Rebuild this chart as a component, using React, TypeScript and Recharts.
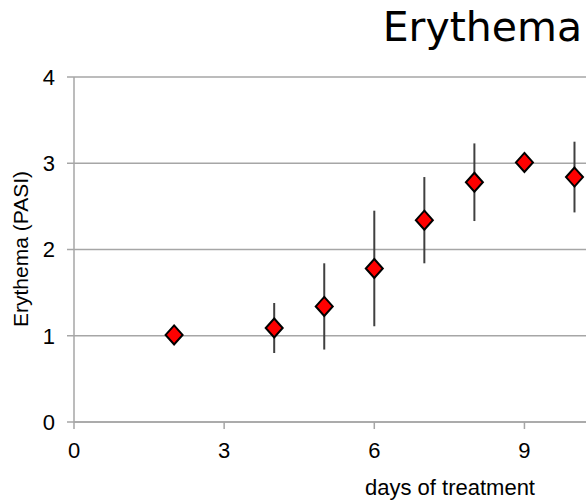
import {
  ScatterChart,
  Scatter,
  XAxis,
  YAxis,
  CartesianGrid,
  ErrorBar,
  Label,
} from "recharts";

// Erythema (PASI) score by day of treatment, mean with spread bars.
const days = [2, 4, 5, 6, 7, 8, 9, 10];
const erythema = [1.01, 1.09, 1.34, 1.78, 2.34, 2.78, 3.01, 2.84];
const spread = [0, 0.29, 0.5, 0.67, 0.5, 0.45, 0, 0.41];

const xTicks = [0, 3, 6, 9];
const yTicks = [0, 1, 2, 3, 4];

const data = days.map((day, i) => ({ day, score: erythema[i], err: spread[i] }));

const AXIS = "#a6a6a6";
const FONT = "'Liberation Sans', Arial, sans-serif";

function Diamond(props: any) {
  const { cx, cy } = props;
  if (cx == null || cy == null) return null;
  const w = 8.5;
  const h = 9.5;
  return (
    <polygon
      points={`${cx},${cy - h} ${cx + w},${cy} ${cx},${cy + h} ${cx - w},${cy}`}
      fill="#ff0000"
      stroke="#000"
      strokeWidth={2}
      strokeLinejoin="miter"
    />
  );
}

export default function App() {
  return (
    <div style={{ position: "absolute", left: 0, top: 0, width: 586, height: 502, background: "#fff" }}>
      <div
        style={{
          position: "absolute",
          right: 4,
          top: 0,
          fontFamily: "'DejaVu Sans', sans-serif",
          fontSize: 41,
          lineHeight: "54px",
          color: "#000",
        }}
      >
        Erythema
      </div>
      <ScatterChart width={586} height={502} margin={{ top: 77, right: 0, bottom: 0, left: 0 }}>
        <CartesianGrid horizontal vertical={false} stroke={AXIS} strokeWidth={1.5} />
        <XAxis
          type="number"
          dataKey="day"
          domain={[0, 10.23]}
          allowDataOverflow
          ticks={xTicks}
          height={80}
          tickSize={7}
          tickMargin={13}
          axisLine={{ stroke: AXIS, strokeWidth: 1.5 }}
          tickLine={{ stroke: AXIS, strokeWidth: 1.5 }}
          tick={{ fill: "#000", fontSize: 22, fontFamily: FONT }}
        >
          <Label
            value="days of treatment"
            position="insideBottom"
            offset={7}
            dx={120}
            style={{ fill: "#000", fontSize: 22, fontFamily: FONT }}
          />
        </XAxis>
        <YAxis
          type="number"
          dataKey="score"
          domain={[0, 4]}
          ticks={yTicks}
          width={74}
          tickSize={7}
          tickMargin={12}
          axisLine={{ stroke: AXIS, strokeWidth: 1.5 }}
          tickLine={{ stroke: AXIS, strokeWidth: 1.5 }}
          tick={{ fill: "#000", fontSize: 22, fontFamily: FONT }}
          label={{
            content: () => (
              <text
                transform="translate(28,249) rotate(-90)"
                textAnchor="middle"
                fill="#000"
                fontSize={21}
                fontFamily={FONT}
              >
                Erythema (PASI)
              </text>
            ),
          }}
        />
        <Scatter data={data} shape={Diamond} isAnimationActive={false}>
          <ErrorBar dataKey="err" direction="y" width={0} stroke="#404040" strokeWidth={2} />
        </Scatter>
      </ScatterChart>
    </div>
  );
}
